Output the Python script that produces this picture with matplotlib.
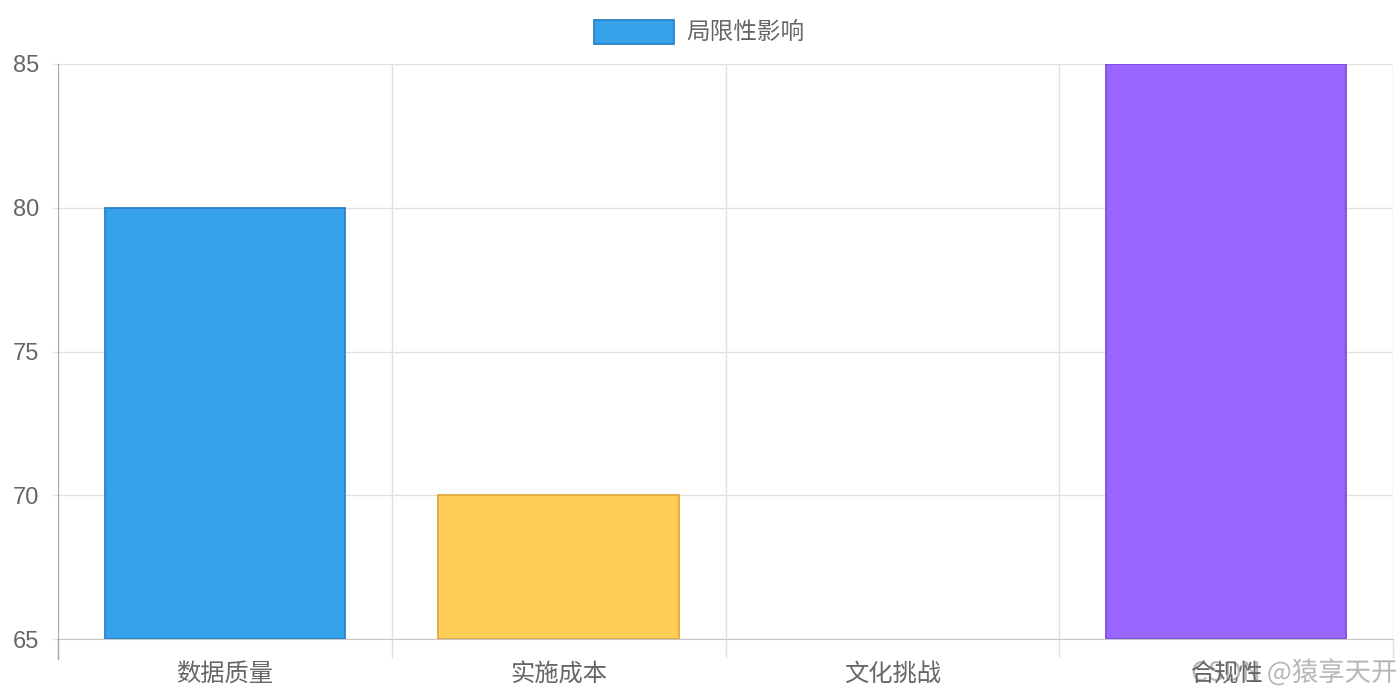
import matplotlib
matplotlib.use("Agg")
import matplotlib.pyplot as plt
from matplotlib.patches import Rectangle
import matplotlib.patheffects as pe

plt.rcParams["font.family"] = ["Noto Sans CJK SC", "DejaVu Sans"]

categories = ["数据质量", "实施成本", "文化挑战", "合规性"]
values = [80, 70, 65, 85]
fill_colors = ["#36A2EB", "#FFCE56", "#4BC0C0", "#9966FF"]
edge_colors = ["#2B82C9", "#E0A93F", "#3AA0A0", "#7F4FDB"]
series_label = "局限性影响"
y_ticks = [65, 70, 75, 80, 85]
watermark = "CSDN @猿享天开"

TEXT = "#666666"
GRID = "#e1e1e1"

fig = plt.figure(figsize=(14, 7), dpi=100)
ax = fig.add_axes([58 / 1400, 61 / 700, 1335 / 1400, 575 / 700])

x = list(range(len(categories)))
heights = [v - 65 for v in values]
# a zero-height bar draws nothing in the original
widths = [1.3 if h > 0 else 0 for h in heights]
ax.bar(x, heights, bottom=65, width=0.72,
       color=fill_colors, edgecolor=edge_colors, linewidth=widths, zorder=3)

ax.set_xlim(-0.5, len(categories) - 0.5)
ax.set_ylim(65, 85)
ax.set_yticks(y_ticks)
ax.set_xticks(x)
ax.set_xticklabels(categories)
ax.set_xticks([i - 0.5 for i in range(len(categories) + 1)], minor=True)

ax.tick_params(axis="x", which="major", length=0, pad=16, labelsize=17.5, labelcolor=TEXT)
ax.tick_params(axis="x", which="minor", length=14, width=1, color=GRID)
ax.tick_params(axis="y", length=4.5, width=1, color=GRID, pad=9,
               labelsize=17, labelcolor=TEXT)
for lab in ax.get_yticklabels():
    lab.set_family(["Liberation Sans", "DejaVu Sans"])

ax.grid(axis="y", color=GRID, linewidth=1, zorder=0)
ax.grid(axis="x", which="minor", color=GRID, linewidth=1, zorder=0)
ax.grid(axis="x", which="major", visible=False)

for s in ("top", "right"):
    ax.spines[s].set_visible(False)
ax.spines["left"].set_color("#aaaaaa")
ax.spines["left"].set_bounds(65, 85)
ax.spines["bottom"].set_color("#c8c8c8")

# left axis line runs down past the bottom like the tick marks
ax.plot([-0.5, -0.5], [65, 65 - 20 * 20 / 575], color="#aaaaaa", lw=1,
        clip_on=False, zorder=4)

# legend at top centre
fig.patches.append(Rectangle((594 / 1400, 1 - 44 / 700), 80 / 1400, 24 / 700,
                             transform=fig.transFigure, facecolor=fill_colors[0],
                             edgecolor=edge_colors[0], linewidth=1.3))
fig.text(686 / 1400, 1 - 32 / 700, series_label, ha="left", va="center",
         fontsize=17, color=TEXT)

# watermark sits behind the axis labels
fig.text(1397 / 1400, 1 - 673 / 700, watermark, ha="right", va="center",
         fontsize=19, color="#b0b0b0", alpha=0.9, zorder=-1,
         path_effects=[pe.withStroke(linewidth=2, foreground="white")])

fig.savefig("out.png", dpi=100, facecolor="white")
